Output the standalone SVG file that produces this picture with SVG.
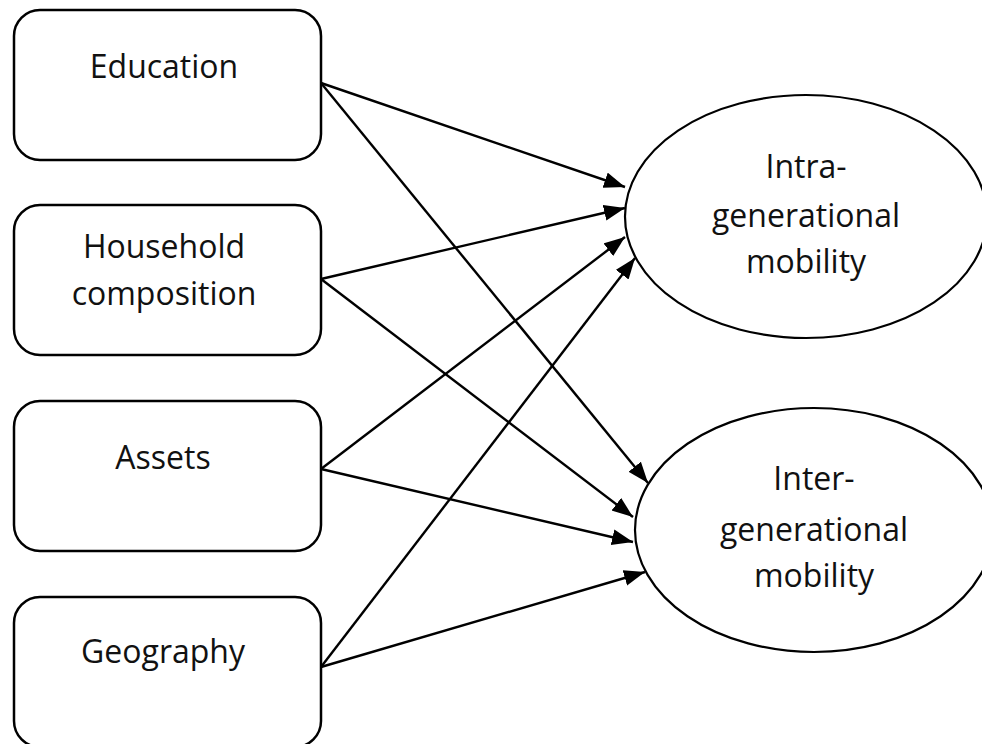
<svg xmlns="http://www.w3.org/2000/svg" width="982" height="744" viewBox="0 0 982 744">
<style>
.box{fill:#fff;stroke:#000;stroke-width:2.5}
.ell{fill:#fff;stroke:#000;stroke-width:2.2}
.lbl{font-family:"Open Sans","Noto Sans",sans-serif;font-size:32px;fill:#111;text-anchor:middle}
.con line{stroke:#000;stroke-width:2.4;marker-end:url(#ah)}
</style>
<defs>
<marker id="ah" markerUnits="userSpaceOnUse" markerWidth="24" markerHeight="18" refX="21" refY="8" orient="auto">
<path d="M0,0 L21,8 L0,16 z" fill="#000"/>
</marker>
</defs>
<g id="education"><rect class="box" x="14" y="10" width="307" height="150" rx="26"/><text class="lbl" x="164" y="78">Education</text></g>
<g id="household"><rect class="box" x="14" y="205" width="307" height="150" rx="26"/><text class="lbl" x="164" y="258">Household</text><text class="lbl" x="164" y="305">composition</text></g>
<g id="assets"><rect class="box" x="14" y="401" width="307" height="150" rx="26"/><text class="lbl" x="163" y="469">Assets</text></g>
<g id="geography"><rect class="box" x="14" y="597" width="307" height="150" rx="26"/><text class="lbl" x="163" y="663">Geography</text></g>
<g id="intra"><ellipse class="ell" cx="806" cy="216.5" rx="181" ry="121.5"/><text class="lbl" x="806" y="178">Intra-</text><text class="lbl" x="806" y="227">generational</text><text class="lbl" x="806" y="273">mobility</text></g>
<g id="inter"><ellipse class="ell" cx="814" cy="530" rx="179" ry="122"/><text class="lbl" x="814" y="490">Inter-</text><text class="lbl" x="814" y="541">generational</text><text class="lbl" x="814" y="587">mobility</text></g>
<g id="connectors" class="con">
<line x1="321" y1="83" x2="625" y2="187"/>
<line x1="321" y1="83" x2="648" y2="483"/>
<line x1="321" y1="279" x2="625" y2="208"/>
<line x1="321" y1="279" x2="633" y2="517"/>
<line x1="321" y1="469" x2="625" y2="237"/>
<line x1="321" y1="469" x2="633" y2="542"/>
<line x1="321" y1="667" x2="635" y2="258"/>
<line x1="321" y1="667" x2="645" y2="572"/>
</g>
</svg>
